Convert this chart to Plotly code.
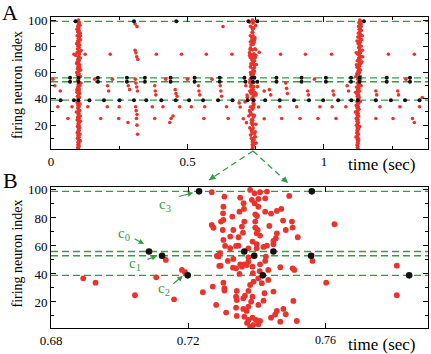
import plotly.graph_objects as go

# ---------------- data ----------------
# background (non-burst) red spikes: time (s), neuron index
bg_t = [0.007, 0.014, 0.025, 0.034, 0.062, 0.077, 0.084,
        0.125, 0.135, 0.160, 0.182, 0.206, 0.207, 0.211, 0.217, 0.225, 0.248, 0.250, 0.283, 0.288, 0.282,
        0.308, 0.315, 0.308, 0.311, 0.314, 0.318, 0.309, 0.311, 0.314, 0.317, 0.310, 0.312, 0.315, 0.313, 0.315, 0.317,
        0.371, 0.380, 0.380, 0.382, 0.384, 0.386, 0.410, 0.420,
        0.435, 0.440, 0.447, 0.455, 0.458, 0.462, 0.471, 0.478, 0.500, 0.514, 0.540, 0.542, 0.545, 0.560, 0.563,
        0.569, 0.590, 0.620, 0.622, 0.625, 0.630, 0.643, 0.649, 0.663,
        0.6894, 0.6930, 0.7045, 0.7107, 0.7135, 0.7159, 0.7182, 0.7191,
        0.7563, 0.7603, 0.7627, 0.7809, 0.7809,
        0.800, 0.805, 0.838, 0.841, 0.845, 0.860, 0.863, 0.866, 0.900, 0.912, 0.932, 0.940, 0.943, 0.965, 0.978,
        0.985, 1.028, 1.030, 1.033, 1.036, 1.044, 1.080, 1.085, 1.090,
        1.190, 1.190, 1.193, 1.205, 1.236, 1.253, 1.270, 1.273, 1.278, 1.300, 1.324, 1.331, 1.331, 1.350, 1.360]
bg_n = [55, 50, 34, 46, 25, 34, 74,
        74, 34, 55, 25, 34, 50, 46, 74, 55, 25, 34, 50, 47, 22,
        97, 95, 77, 75, 72, 70, 55, 52, 49, 46, 34, 31, 28, 25, 20, 13,
        34, 25, 50, 46, 43, 74, 34, 55,
        22, 25, 27, 47, 44, 42, 34, 74, 55, 34, 50, 46, 43, 25, 34,
        74, 55, 50, 46, 42, 95, 34, 25, 74,
        36.9, 33.8, 24.8, 37.6, 50, 21.9, 42.9, 41.2,
        49.3, 33.8, 75.5, 45.9, 24.8,
        47, 43, 34, 74, 25, 52, 48, 44, 34, 25, 74, 46, 43, 55, 25,
        34, 74, 34, 46, 43, 25, 34, 50, 46,
        25, 46, 43, 34, 74, 25, 46, 43, 34, 55, 25, 22, 74, 34, 41]

# first burst (~0.1 s)
burst1_n = [100, 99, 98, 97, 96, 95, 94, 93, 92, 91, 90, 89, 88, 87, 86, 85, 84, 83, 82, 81, 80, 79, 78, 77, 76,
            75, 74, 73, 72, 71, 70, 69, 68, 67, 66, 65, 64, 63, 62, 61, 60, 59, 58, 57, 55, 54, 52, 51, 50, 49,
            48, 47, 46, 45, 44, 43, 42, 41, 40, 38, 37, 36, 35, 34, 33, 32, 31, 30, 29, 28, 27, 26, 25, 24, 23,
            22, 21, 20, 19, 18, 17, 16, 15, 14, 13, 12, 11, 10, 9, 8, 7, 6, 5, 4, 3, 2,
            88, 67, 62, 45, 52, 30, 23, 14, 8, 71, 58, 83, 47, 36, 19, 91, 64, 27, 5, 76]
burst1_t = [0.101, 0.097, 0.104, 0.100, 0.106, 0.098, 0.102, 0.095, 0.103, 0.099, 0.107, 0.101, 0.096, 0.104,
            0.100, 0.108, 0.098, 0.102, 0.094, 0.105, 0.099, 0.103, 0.097, 0.110, 0.101, 0.095, 0.104, 0.091,
            0.100, 0.107, 0.098, 0.103, 0.096, 0.101, 0.105, 0.099, 0.102, 0.097, 0.106, 0.100, 0.094, 0.103,
            0.099, 0.108, 0.101, 0.097, 0.104, 0.100, 0.106, 0.098, 0.102, 0.095, 0.103, 0.099, 0.105, 0.101,
            0.097, 0.104, 0.100, 0.102, 0.096, 0.106, 0.099, 0.103, 0.098, 0.101, 0.105, 0.097, 0.102, 0.100,
            0.107, 0.098, 0.103, 0.096, 0.101, 0.104, 0.099, 0.102, 0.097, 0.105, 0.100, 0.103, 0.098, 0.101,
            0.106, 0.099, 0.103, 0.097, 0.101, 0.104, 0.099, 0.102, 0.100, 0.103, 0.098, 0.101,
            0.108, 0.094, 0.109, 0.095, 0.110, 0.093, 0.108, 0.096, 0.107, 0.104, 0.097, 0.100, 0.103, 0.099,
            0.102, 0.098, 0.105, 0.101, 0.099, 0.106]

# second burst (~0.74 s)
burst2_t = [0.7269, 0.7306, 0.7352, 0.7303, 0.7363, 0.7350, 0.7329, 0.7303, 0.7296, 0.7269, 0.7274, 0.7301,
            0.7357, 0.7360, 0.7347, 0.7303, 0.7340, 0.7323, 0.7347, 0.7293, 0.7289, 0.7316, 0.7332, 0.7295,
            0.7331, 0.7352, 0.7364, 0.7340, 0.7350, 0.7243, 0.7272, 0.7303, 0.7306, 0.7306, 0.7342, 0.7340,
            0.7342, 0.7361, 0.7282, 0.7311, 0.7340, 0.7361, 0.7364, 0.7376, 0.7342,
            0.7381, 0.7394, 0.7410, 0.7430, 0.7386, 0.7405, 0.7394, 0.7425, 0.7495, 0.7405, 0.7472, 0.7459,
            0.7396, 0.7401, 0.7442, 0.7477, 0.7503, 0.7437, 0.7505, 0.7396, 0.7403, 0.7410, 0.7520, 0.7459,
            0.7388, 0.7400, 0.7449, 0.7456, 0.7420, 0.7430, 0.7376, 0.7388, 0.7371, 0.7410, 0.7425, 0.7427,
            0.7505, 0.7510, 0.7405, 0.7391, 0.7381, 0.7415, 0.7434, 0.7376, 0.7449, 0.7507, 0.7384, 0.7376,
            0.7405, 0.7371, 0.7459, 0.7478, 0.7485, 0.7388, 0.7398, 0.7405, 0.7381, 0.7442, 0.7469, 0.7517,
            0.7372, 0.7390, 0.7410, 0.7469, 0.7357, 0.7376, 0.7389, 0.7409, 0.7434, 0.7366, 0.7388, 0.7423,
            0.7420, 0.7454, 0.7362, 0.7302, 0.7425, 0.7364, 0.7396, 0.7332, 0.7485, 0.7323, 0.7400, 0.7308,
            0.7449, 0.7376, 0.7400, 0.7284, 0.7291]
burst2_n = [98.4, 95.2, 94.5, 88, 86.4, 84.5, 81, 78.6, 77.4, 75, 73, 71.4,
            73.8, 69.5, 66.2, 64.3, 60, 58.4, 60.2, 54.8, 52.4, 49.3, 50.7, 45.9,
            44.5, 46.9, 46.9, 44, 40, 27, 31, 33.8, 29.8, 28.1, 27.9, 23.8,
            21.4, 22.6, 17.9, 12.4, 15.9, 15, 9.5, 7.1, 10,
            100, 97.6, 98.4, 98.8, 92.9, 93.6, 90.5, 94, 95.7, 88, 86.4, 85,
            82.6, 81.4, 83.1, 78.1, 77.4, 74.3, 73.1, 73.1, 71.4, 67.4, 66.2, 69,
            63.1, 61.2, 63.6, 65.5, 59.3, 60.2, 48.8, 45.2, 46.4, 46.9, 49.3, 52.4,
            44, 42.9, 36.9, 34.5, 32.1, 33.4, 35.7, 27.9, 27.4, 20.7, 20.2, 16.7,
            17.9, 13.6, 13.6, 15, 11.2, 8.8, 7.1, 4, 2.4, 8.8, 5.9, 6.4,
            5, 3.5, 6.5, 44.8, 45.2, 51.9, 40.5, 42, 42.9, 24.5, 23.8, 26.2,
            20.9, 11, 90.5, 83.3, 84.5, 77.4, 77.4, 71.4, 71.4, 66.7, 69, 60,
            61.2, 58.3, 58.3, 52.9, 45.7]

# third burst (~1.13 s)
burst3_n = [100, 99, 98, 97, 96, 95, 94, 93, 92, 91, 90, 89, 88, 87, 86, 85, 84, 83, 82, 81, 80, 79, 78, 77, 76,
            75, 74, 73, 72, 71, 70, 69, 68, 67, 66, 65, 64, 63, 62, 61, 60, 59, 58, 57, 55, 54, 52, 51, 50, 49,
            48, 47, 46, 45, 44, 43, 42, 41, 40, 38, 37, 36, 35, 34, 33, 32, 31, 30, 29, 28, 27, 26, 25, 24, 23,
            22, 21, 20, 19, 18, 17, 16, 15, 14, 13, 12, 11, 10, 9, 8, 7, 6, 5, 4, 3, 2,
            88, 75, 68, 57, 50, 45, 38, 30, 19, 11, 95, 84, 62, 36, 9, 72, 66, 55]
burst3_t = [1.131, 1.134, 1.128, 1.136, 1.130, 1.127, 1.133, 1.129, 1.137, 1.131, 1.126, 1.134, 1.130, 1.124,
            1.132, 1.138, 1.128, 1.133, 1.125, 1.130, 1.136, 1.127, 1.131, 1.141, 1.129, 1.134, 1.124, 1.130,
            1.137, 1.127, 1.132, 1.122, 1.129, 1.135, 1.126, 1.131, 1.121, 1.128, 1.134, 1.125, 1.130, 1.120,
            1.127, 1.133, 1.124, 1.129, 1.122, 1.131, 1.126, 1.119, 1.128, 1.123, 1.130, 1.125, 1.120, 1.127,
            1.122, 1.129, 1.124, 1.121, 1.127, 1.123, 1.118, 1.126, 1.121, 1.128, 1.123, 1.119, 1.125, 1.121,
            1.127, 1.122, 1.118, 1.125, 1.121, 1.126, 1.123, 1.119, 1.125, 1.122, 1.127, 1.121, 1.124, 1.120,
            1.126, 1.123, 1.121, 1.125, 1.122, 1.126, 1.123, 1.125, 1.121, 1.124, 1.122, 1.125,
            1.140, 1.118, 1.139, 1.117, 1.136, 1.116, 1.133, 1.115, 1.131, 1.117, 1.136, 1.121, 1.128, 1.125,
            1.127, 1.142, 1.119, 1.133]

# tracked neurons c0..c3 (black spikes)
tracked_rows = [99, 56, 53, 39]
black_t = [0.035, 0.070, 0.070, 0.084, 0.090, 0.101, 0.101, 0.100, 0.141, 0.172, 0.172, 0.194, 0.251, 0.278,
           0.278, 0.304, 0.304, 0.344, 0.344, 0.349, 0.404, 0.438, 0.438, 0.457, 0.459, 0.506, 0.526, 0.526,
           0.557, 0.612, 0.618, 0.618, 0.665,
           0.7086, 0.7124, 0.7199, 0.7232, 0.7364, 0.7393, 0.7418, 0.7449, 0.7559, 0.7561, 0.7845,
           0.826, 0.826, 0.838, 0.890, 0.918, 0.918, 0.945, 0.997, 1.007, 1.007, 1.052, 1.099, 1.099, 1.100,
           1.130, 1.130, 1.124, 1.146, 1.190, 1.230, 1.230, 1.245, 1.297, 1.315, 1.315, 1.350]
black_n = [39, 56, 53, 39, 99, 56, 53, 39, 39, 56, 53, 39, 39, 56,
           53, 39, 99, 56, 53, 39, 39, 56, 53, 39, 99, 39, 56, 53,
           39, 39, 56, 53, 39,
           56, 53, 39, 99, 56, 53, 39, 56, 53, 99, 39,
           56, 53, 39, 39, 56, 53, 39, 39, 56, 53, 39, 56, 53, 39,
           56, 53, 39, 99, 39, 56, 53, 39, 39, 56, 53, 39]

# axis ticks
a_xticks = [0, 0.5, 1]
a_xticklabels = ["0", "0.5", "1"]
b_xticks = [0.68, 0.72, 0.76]
b_xticklabels = ["0.68", "0.72", ""]
yticks = [20, 40, 60, 80, 100]

# c-labels: (text, label t, label n, arrow tip t, arrow tip n, ax px, ay px)
c_labels = [("c<sub>3</sub>", 0.7133, 89.3, 0.7215, 97.9, -16, 4),
            ("c<sub>0</sub>", 0.7013, 68.6, 0.70715, 61.4, -11, -6),
            ("c<sub>1</sub>", 0.7045, 47.1, 0.7109, 52.9, -11, 4),
            ("c<sub>2</sub>", 0.7130, 29.3, 0.71845, 38.6, -11, 9)]

# ---------------- figure ----------------
RED = "#e8342c"
GREEN = "#2f9e46"
FONT = "Liberation Serif"

red_t = bg_t + burst1_t + burst2_t + burst3_t
red_n = bg_n + burst1_n + burst2_n + burst3_n

fig = go.Figure()
for xa, ya, rs, bs in [("x", "y", 3.6, 4.0), ("x2", "y2", 5.8, 6.6)]:
    fig.add_trace(go.Scatter(x=red_t, y=red_n, mode="markers", xaxis=xa, yaxis=ya,
                             marker=dict(color=RED, size=rs, line=dict(width=0)),
                             showlegend=False, hoverinfo="skip"))
    fig.add_trace(go.Scatter(x=black_t, y=black_n, mode="markers", xaxis=xa, yaxis=ya,
                             marker=dict(color="#111111", size=bs, line=dict(width=0)),
                             showlegend=False, hoverinfo="skip"))

axis_common = dict(showline=True, linecolor="black", linewidth=1, mirror="ticks",
                   ticks="inside", ticklen=5, tickwidth=1, tickcolor="black",
                   showgrid=False, zeroline=False, automargin=False,
                   tickfont=dict(family=FONT, size=13, color="black"))
yminor = dict(tickvals=[10, 30, 50, 70, 90], ticks="inside", ticklen=3, tickcolor="black")

fig.update_layout(
    template="none",
    width=431, height=354,
    margin=dict(l=51, r=3, t=17, b=26, autoexpand=False),
    paper_bgcolor="white", plot_bgcolor="white",
    xaxis=dict(domain=[0, 1], anchor="y", range=[0, 1.381], tickvals=a_xticks, ticktext=a_xticklabels,
               minor=dict(tickvals=[0.25, 0.75, 1.25], ticks="inside", ticklen=3, tickcolor="black"),
               **axis_common),
    yaxis=dict(domain=[0.5746, 1], anchor="x", range=[1.6, 102.3], tickvals=yticks,
               minor=yminor, **axis_common),
    xaxis2=dict(domain=[0, 1], anchor="y2", range=[0.68, 0.790], tickvals=b_xticks, ticktext=b_xticklabels,
                **axis_common),
    yaxis2=dict(domain=[0, 0.4534], anchor="x2", range=[1.4, 102.1], tickvals=yticks,
                minor=yminor, **axis_common),
)

# dashed horizontal lines for tracked neurons
for r in tracked_rows:
    for xa, ya in [("x", "y"), ("x2", "y2")]:
        fig.add_shape(type="line", xref=xa + " domain", yref=ya, x0=0, x1=1, y0=r, y1=r,
                      line=dict(color=GREEN, width=1.4, dash="7px,4px"), layer="below")

# zoom connector lines between panels
def px2paper(px, py):
    return (px - 51) / 377.0, (328 - py) / 311.0

ox, oy = px2paper(253, 151)
for tip_px, tip_py, axp, ayp in [(209, 180, 5.8, -3.9), (288, 183, -5.2, -4.7)]:
    tx, ty = px2paper(tip_px, tip_py)
    fig.add_shape(type="line", xref="paper", yref="paper", x0=ox, y0=oy, x1=tx, y1=ty,
                  line=dict(color=GREEN, width=1.3, dash="6px,4px"))
    fig.add_annotation(xref="paper", yref="paper", x=tx, y=ty, ax=axp, ay=ayp, text="",
                       showarrow=True, arrowhead=2, arrowsize=1, arrowwidth=1.3, arrowcolor=GREEN)

# c labels with arrows
for txt, lt, ln, at, an, axp, ayp in c_labels:
    fig.add_annotation(xref="x2", yref="y2", x=lt, y=ln, text=txt, showarrow=False,
                       font=dict(family=FONT, size=15, color=GREEN))
    fig.add_annotation(xref="x2", yref="y2", x=at, y=an, ax=axp, ay=ayp, text="",
                       showarrow=True, arrowhead=2, arrowsize=0.9, arrowwidth=1.2, arrowcolor=GREEN)

# text annotations
def add_text(px, py, text, size, angle=0):
    x, y = px2paper(px, py)
    fig.add_annotation(xref="paper", yref="paper", x=x, y=y, text=text, showarrow=False,
                       xanchor="center", yanchor="middle", textangle=angle,
                       font=dict(family=FONT, size=size, color="black"))

add_text(9.5, 12.5, "A", 22)
add_text(10.5, 180.5, "B", 22)
add_text(17, 85, "firing neuron index", 14, -90)
add_text(17, 253.5, "firing neuron index", 14, -90)
add_text(382, 164.5, "time (sec)", 17)
add_text(382, 345, "time (sec)", 17)
add_text(325.5, 339.5, "0.76", 12)

fig.write_html("out.html", config={"displayModeBar": False},
               post_script="document.body.style.margin='0px';")
